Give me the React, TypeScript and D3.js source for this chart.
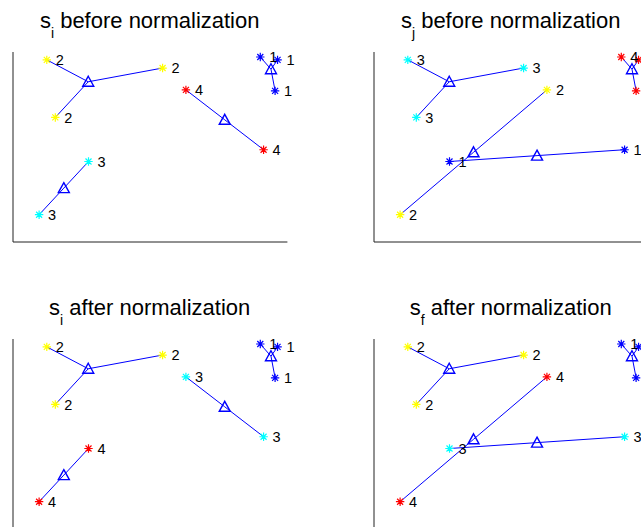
import React, { useEffect, useRef } from 'react';
import * as d3 from 'd3';

// the same ten points, grouped four different ways
const pointX = [12.5, 54.7, 15.6, 90.3, 96.6, 95.7, 63.2, 91.5, 27.7, 9.7];
const pointY = [95.6, 91.3, 65.3, 97.1, 95.6, 79.3, 79.8, 48.3, 42.1, 14.1];

const siBefore = [2, 2, 2, 1, 1, 1, 4, 4, 3, 3];
const sjBefore = [3, 3, 3, 4, 4, 4, 2, 1, 1, 2];
const siAfter = [2, 2, 2, 1, 1, 1, 3, 3, 4, 4];
const sfAfter = [2, 2, 2, 1, 1, 1, 4, 3, 3, 4];

const titleSubs = ['i', 'j', 'i', 'f'];
const titleTexts = ['before normalization', 'before normalization', 'after normalization', 'after normalization'];

// cluster 1..4 -> b, y, c, r
const clusterColors = ['#0000ff', '#ffff00', '#00ffff', '#ff0000'];

const font = '"Liberation Sans", Arial, Helvetica, sans-serif';

export default function App() {
  const ref = useRef<SVGSVGElement>(null);

  useEffect(() => {
    const width = 641;
    const height = 527;
    const colLeft = [12.5, 373.5];
    const rowTop = [51.5, 338.5];
    const axW = 274.4;
    const axH = 190;

    const svg = d3.select(ref.current);
    svg.selectAll('*').remove();
    svg.attr('width', width).attr('height', height);

    const panels = [siBefore, sjBefore, siAfter, sfAfter];

    panels.forEach((labels, k) => {
      const col = k % 2;
      const row = Math.floor(k / 2);
      const x = d3.scaleLinear().domain([0, 100]).range([colLeft[col], colLeft[col] + axW]);
      const y = d3.scaleLinear().domain([0, 100]).range([rowTop[row] + axH, rowTop[row]]);

      const g = svg.append('g');

      // axes: only the left and bottom lines, no ticks
      const gx = g
        .append('g')
        .attr('transform', `translate(0,${y(0)})`)
        .call(d3.axisBottom(x).tickValues([]).tickSizeOuter(0));
      const gy = g
        .append('g')
        .attr('transform', `translate(${x(0)},0)`)
        .call(d3.axisLeft(y).tickValues([]).tickSizeOuter(0));
      [gx, gy].forEach((a) => a.select('.domain').attr('stroke', '#222').attr('stroke-width', 1));

      // title with subscript
      const title = g
        .append('text')
        .attr('x', colLeft[col] + axW / 2)
        .attr('y', rowTop[row] - 23.5)
        .attr('text-anchor', 'middle')
        .attr('font-family', font)
        .attr('font-size', 22)
        .attr('fill', '#000');
      title.append('tspan').text('s');
      title.append('tspan').attr('dy', 10).attr('font-size', 14).text(titleSubs[k]);
      title.append('tspan').attr('dy', -10).text(' ' + titleTexts[k]);

      const idx = d3.range(pointX.length);
      const groups = d3.group(idx, (i) => labels[i]);

      const centroids: { c: number; cx: number; cy: number }[] = [];
      groups.forEach((members, c) => {
        const cx = d3.mean(members, (i) => pointX[i]) as number;
        const cy = d3.mean(members, (i) => pointY[i]) as number;
        centroids.push({ c, cx, cy });
        members.forEach((i) => {
          g.append('line')
            .attr('x1', x(cx))
            .attr('y1', y(cy))
            .attr('x2', x(pointX[i]))
            .attr('y2', y(pointY[i]))
            .attr('stroke', '#0000ff')
            .attr('stroke-width', 1);
        });
      });

      // centroid triangles
      g.selectAll('path.tri')
        .data(centroids)
        .join('path')
        .attr('class', 'tri')
        .attr('d', (d) => {
          const cx = x(d.cx);
          const cy = y(d.cy);
          return `M${cx},${cy - 5.5}L${cx + 5.5},${cy + 4.5}L${cx - 5.5},${cy + 4.5}Z`;
        })
        .attr('fill', 'none')
        .attr('stroke', '#0000ff')
        .attr('stroke-width', 1.4);

      // star markers
      const r = 4.2;
      const d = 3;
      const star = `M${-r},0H${r}M0,${-r}V${r}M${-d},${-d}L${d},${d}M${-d},${d}L${d},${-d}`;
      g.selectAll('path.star')
        .data(idx)
        .join('path')
        .attr('class', 'star')
        .attr('transform', (i) => `translate(${x(pointX[i])},${y(pointY[i])})`)
        .attr('d', star)
        .attr('fill', 'none')
        .attr('stroke', (i) => clusterColors[labels[i] - 1])
        .attr('stroke-width', 1.2);

      // cluster numbers
      g.selectAll('text.lbl')
        .data(idx)
        .join('text')
        .attr('class', 'lbl')
        .attr('x', (i) => x(pointX[i]) + 9)
        .attr('y', (i) => y(pointY[i]) + 5.3)
        .attr('font-family', font)
        .attr('font-size', 14.5)
        .attr('fill', '#000')
        .text((i) => String(labels[i]));
    });
  }, []);

  return (
    <svg
      ref={ref}
      style={{ position: 'absolute', left: 0, top: 0, background: '#fff' }}
      width={641}
      height={527}
    />
  );
}
